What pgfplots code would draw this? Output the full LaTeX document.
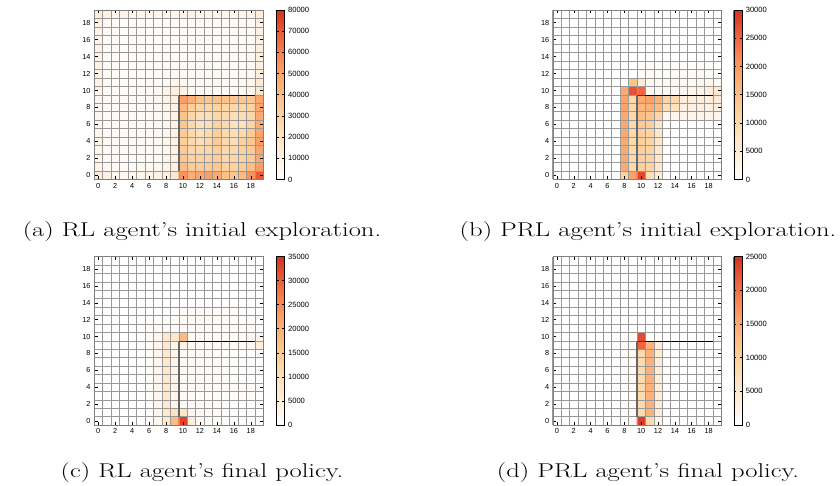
\documentclass[border=0pt]{standalone}
\usepackage{fontspec}
\usepackage{pgfplots}
\pgfplotsset{compat=1.18}
\newfontfamily\tickfont{Liberation Sans}
\newcommand\capfont{\fontsize{20}{24}\selectfont}
\pgfplotsset{
  colormap={orrd}{rgb255=(255,255,255) rgb255=(255,240,224) rgb255=(254,228,196) rgb255=(253,212,160) rgb255=(253,190,133) rgb255=(252,165,108) rgb255=(248,129,80) rgb255=(233,90,58) rgb255=(215,48,31)},
  hm/.style={
    scale only axis,
    xmin=-0.5, xmax=19.5, ymin=-0.5, ymax=19.5,
    enlargelimits=false,
    xtick={0,2,4,6,8,10,12,14,16,18},
    ytick={0,2,4,6,8,10,12,14,16,18},
    minor xtick={-0.5,0.5,...,19.5},
    minor ytick={-0.5,0.5,...,19.5},
    grid=minor,
    minor grid style={black!40, line width=0.45pt},
    minor tick length=0pt,
    major tick length=3.5pt,
    tick align=inside,
    tick style={black, line width=0.5pt},
    axis on top,
    axis line style={black!50},
    /pgf/number format/assume math mode=true,
    ticklabel style={font=\tickfont\fontsize{7.3}{8}\selectfont},
    colormap name=orrd,
    colorbar,
    point meta min=0,
    colorbar style={
      width=8.5pt,
      at={(parent axis.north east)}, anchor=north west, xshift=4pt,
      scaled y ticks=false,
      /pgf/number format/assume math mode=true,
      yticklabel style={font=\tickfont\fontsize{7.6}{8}\selectfont, /pgf/number format/1000 sep={}},
      tick align=inside,
      major tick length=2.5pt,
      tick style={black, line width=0.5pt},
      axis line style={black},
    },
    after end axis/.append code={
      \draw[black!60, line width=1.9pt] (axis cs:9.5,0.5) -- (axis cs:9.5,9.4);
      \draw[black, line width=1.4pt] (axis cs:9.5,9.4) -- (axis cs:18.5,9.4);
      \draw[red!85!black, line width=1.4pt] (axis cs:9.5,9.4) -- (axis cs:10.4,9.4);
    },
  },
  heat/.style={matrix plot*, mesh/cols=20, mesh/rows=20, point meta=explicit},
}
\begin{document}
\begin{tikzpicture}
\path[use as bounding box] (0,0) rectangle (840pt,485pt);

% (a) RL initial exploration
\begin{axis}[hm, at={(94pt,305.5pt)}, anchor=south west, width=169.5pt, height=169.5pt,
  point meta max=80000,
  colorbar style={ytick={0,10000,20000,30000,40000,50000,60000,70000,80000}}]
\addplot[heat] table[row sep=\\, x expr={mod(\coordindex,20)}, y expr={floor(\coordindex/20)}, meta=v] {
v\\
12000\\ 9000\\ 5000\\ 4000\\ 5000\\ 6000\\ 7000\\ 9000\\ 12000\\ 16000\\ 55000\\ 46000\\ 50000\\ 52000\\ 48000\\ 38000\\ 36000\\ 42000\\ 56000\\ 70000\\
7000\\ 4000\\ 3000\\ 3000\\ 3000\\ 4000\\ 4000\\ 5000\\ 8000\\ 10000\\ 40000\\ 34000\\ 34000\\ 34000\\ 36000\\ 30000\\ 30000\\ 34000\\ 40000\\ 52000\\
6000\\ 3000\\ 3000\\ 3000\\ 3000\\ 3000\\ 3000\\ 4000\\ 7000\\ 9000\\ 36000\\ 30000\\ 30000\\ 30000\\ 32000\\ 28000\\ 28000\\ 30000\\ 34000\\ 50000\\
6000\\ 3000\\ 3000\\ 3000\\ 3000\\ 3000\\ 3000\\ 4000\\ 6000\\ 8000\\ 34000\\ 28000\\ 26000\\ 28000\\ 32000\\ 26000\\ 26000\\ 30000\\ 34000\\ 50000\\
7000\\ 3000\\ 3000\\ 3000\\ 3000\\ 3000\\ 3000\\ 4000\\ 6000\\ 8000\\ 32000\\ 26000\\ 24000\\ 26000\\ 34000\\ 26000\\ 24000\\ 30000\\ 36000\\ 52000\\
6000\\ 3000\\ 3000\\ 3000\\ 3000\\ 3000\\ 3000\\ 4000\\ 6000\\ 8000\\ 34000\\ 26000\\ 24000\\ 26000\\ 32000\\ 26000\\ 24000\\ 26000\\ 34000\\ 50000\\
5000\\ 3000\\ 3000\\ 3000\\ 3000\\ 3000\\ 3000\\ 4000\\ 6000\\ 8000\\ 36000\\ 26000\\ 22000\\ 24000\\ 30000\\ 26000\\ 22000\\ 22000\\ 30000\\ 48000\\
5000\\ 3000\\ 3000\\ 3000\\ 3000\\ 3000\\ 3000\\ 4000\\ 6000\\ 8000\\ 38000\\ 28000\\ 24000\\ 24000\\ 28000\\ 26000\\ 24000\\ 24000\\ 28000\\ 48000\\
5000\\ 3000\\ 3000\\ 3000\\ 3000\\ 3000\\ 3000\\ 4000\\ 6000\\ 8000\\ 42000\\ 32000\\ 28000\\ 28000\\ 30000\\ 28000\\ 26000\\ 26000\\ 30000\\ 50000\\
5000\\ 3000\\ 3000\\ 3000\\ 3000\\ 3000\\ 4000\\ 5000\\ 8000\\ 10000\\ 52000\\ 46000\\ 38000\\ 36000\\ 38000\\ 38000\\ 36000\\ 36000\\ 36000\\ 50000\\
6000\\ 3000\\ 2000\\ 2000\\ 2000\\ 3000\\ 3000\\ 4000\\ 7000\\ 11000\\ 8000\\ 3000\\ 3000\\ 3000\\ 3000\\ 3000\\ 3000\\ 4000\\ 6000\\ 18000\\
7000\\ 3000\\ 2000\\ 2000\\ 2000\\ 2000\\ 3000\\ 3000\\ 4000\\ 6000\\ 4000\\ 3000\\ 3000\\ 3000\\ 4000\\ 3000\\ 3000\\ 4000\\ 5000\\ 14000\\
8000\\ 3000\\ 2000\\ 2000\\ 2000\\ 2000\\ 2000\\ 3000\\ 3000\\ 4000\\ 3000\\ 3000\\ 3000\\ 3000\\ 4000\\ 3000\\ 3000\\ 3000\\ 4000\\ 12000\\
8000\\ 3000\\ 2000\\ 2000\\ 2000\\ 2000\\ 2000\\ 3000\\ 3000\\ 3000\\ 3000\\ 3000\\ 3000\\ 3000\\ 3000\\ 3000\\ 3000\\ 3000\\ 4000\\ 10000\\
7000\\ 3000\\ 2000\\ 1500\\ 1500\\ 2000\\ 2000\\ 2000\\ 3000\\ 3000\\ 3000\\ 3000\\ 3000\\ 3000\\ 3000\\ 3000\\ 3000\\ 3000\\ 4000\\ 10000\\
7000\\ 3000\\ 2000\\ 1500\\ 1500\\ 2000\\ 2000\\ 2000\\ 2000\\ 3000\\ 3000\\ 3000\\ 3000\\ 3000\\ 3000\\ 3000\\ 3000\\ 3000\\ 4000\\ 10000\\
7000\\ 3000\\ 2000\\ 1500\\ 1500\\ 2000\\ 2000\\ 2000\\ 2000\\ 3000\\ 3000\\ 3000\\ 3000\\ 3000\\ 3000\\ 3000\\ 3000\\ 3000\\ 3000\\ 9000\\
7000\\ 3000\\ 2000\\ 1500\\ 1500\\ 2000\\ 2000\\ 2000\\ 2000\\ 3000\\ 3000\\ 3000\\ 3000\\ 3000\\ 3000\\ 3000\\ 3000\\ 3000\\ 3000\\ 9000\\
8000\\ 3000\\ 2000\\ 2000\\ 2000\\ 2000\\ 2000\\ 2000\\ 2000\\ 3000\\ 3000\\ 3000\\ 3000\\ 3000\\ 3000\\ 3000\\ 3000\\ 3000\\ 3000\\ 9000\\
12000\\ 9000\\ 7000\\ 7000\\ 6000\\ 6000\\ 6000\\ 6000\\ 6000\\ 6000\\ 7000\\ 7000\\ 6000\\ 6000\\ 6000\\ 6000\\ 6000\\ 6000\\ 7000\\ 12000\\
};
\end{axis}

% (b) PRL initial exploration
\begin{axis}[hm, at={(552.7pt,305.5pt)}, anchor=south west, width=168.5pt, height=169.5pt,
  point meta max=30000,
  colorbar style={ytick={0,5000,10000,15000,20000,25000,30000}}]
\addplot[heat] table[row sep=\\, x expr={mod(\coordindex,20)}, y expr={floor(\coordindex/20)}, meta=v] {
v\\
0\\ 0\\ 0\\ 0\\ 0\\ 0\\ 0\\ 0\\ 11000\\ 19000\\ 28000\\ 9000\\ 5000\\ 0\\ 0\\ 0\\ 0\\ 0\\ 0\\ 0\\
0\\ 0\\ 0\\ 0\\ 0\\ 0\\ 0\\ 0\\ 18000\\ 10000\\ 12000\\ 11000\\ 6500\\ 0\\ 0\\ 0\\ 0\\ 0\\ 0\\ 0\\
0\\ 0\\ 0\\ 0\\ 0\\ 0\\ 0\\ 0\\ 18000\\ 10000\\ 12000\\ 11000\\ 6500\\ 0\\ 0\\ 0\\ 0\\ 0\\ 0\\ 0\\
0\\ 0\\ 0\\ 0\\ 0\\ 0\\ 0\\ 0\\ 18000\\ 10000\\ 12000\\ 11000\\ 6500\\ 0\\ 0\\ 0\\ 0\\ 0\\ 0\\ 0\\
0\\ 0\\ 0\\ 0\\ 0\\ 0\\ 0\\ 0\\ 18000\\ 10000\\ 12000\\ 11000\\ 6500\\ 0\\ 0\\ 0\\ 0\\ 0\\ 0\\ 0\\
0\\ 0\\ 0\\ 0\\ 0\\ 0\\ 0\\ 0\\ 18000\\ 10000\\ 12000\\ 11000\\ 6500\\ 0\\ 0\\ 0\\ 0\\ 0\\ 0\\ 0\\
0\\ 0\\ 0\\ 0\\ 0\\ 0\\ 0\\ 0\\ 18000\\ 10000\\ 13000\\ 12000\\ 7000\\ 0\\ 0\\ 0\\ 0\\ 0\\ 0\\ 0\\
0\\ 0\\ 0\\ 0\\ 0\\ 0\\ 0\\ 0\\ 18000\\ 10000\\ 15000\\ 14000\\ 11000\\ 2000\\ 2000\\ 2500\\ 2500\\ 2500\\ 2500\\ 2500\\
0\\ 0\\ 0\\ 0\\ 0\\ 0\\ 0\\ 0\\ 19000\\ 10000\\ 16000\\ 17000\\ 15000\\ 9000\\ 8000\\ 3500\\ 3500\\ 3500\\ 3500\\ 3500\\
0\\ 0\\ 0\\ 0\\ 0\\ 0\\ 0\\ 0\\ 19000\\ 10000\\ 18000\\ 19000\\ 17000\\ 11000\\ 10000\\ 4500\\ 4500\\ 4500\\ 4500\\ 5500\\
0\\ 0\\ 0\\ 0\\ 0\\ 0\\ 0\\ 0\\ 18000\\ 27000\\ 25000\\ 1500\\ 1500\\ 1500\\ 1500\\ 2000\\ 2000\\ 3000\\ 4500\\ 5500\\
0\\ 0\\ 0\\ 0\\ 0\\ 0\\ 0\\ 0\\ 0\\ 14000\\ 5000\\ 1500\\ 1500\\ 1500\\ 1500\\ 1500\\ 1500\\ 2000\\ 2000\\ 1000\\
0\\ 0\\ 0\\ 0\\ 0\\ 0\\ 0\\ 0\\ 0\\ 0\\ 800\\ 1000\\ 1000\\ 1000\\ 1000\\ 1000\\ 1000\\ 1000\\ 1000\\ 300\\
0\\ 0\\ 0\\ 0\\ 0\\ 0\\ 0\\ 0\\ 0\\ 0\\ 0\\ 0\\ 0\\ 0\\ 0\\ 0\\ 0\\ 0\\ 0\\ 0\\
0\\ 0\\ 0\\ 0\\ 0\\ 0\\ 0\\ 0\\ 0\\ 0\\ 0\\ 0\\ 0\\ 0\\ 0\\ 0\\ 0\\ 0\\ 0\\ 0\\
0\\ 0\\ 0\\ 0\\ 0\\ 0\\ 0\\ 0\\ 0\\ 0\\ 0\\ 0\\ 0\\ 0\\ 0\\ 0\\ 0\\ 0\\ 0\\ 0\\
0\\ 0\\ 0\\ 0\\ 0\\ 0\\ 0\\ 0\\ 0\\ 0\\ 0\\ 0\\ 0\\ 0\\ 0\\ 0\\ 0\\ 0\\ 0\\ 0\\
0\\ 0\\ 0\\ 0\\ 0\\ 0\\ 0\\ 0\\ 0\\ 0\\ 0\\ 0\\ 0\\ 0\\ 0\\ 0\\ 0\\ 0\\ 0\\ 0\\
0\\ 0\\ 0\\ 0\\ 0\\ 0\\ 0\\ 0\\ 0\\ 0\\ 0\\ 0\\ 0\\ 0\\ 0\\ 0\\ 0\\ 0\\ 0\\ 0\\
0\\ 0\\ 0\\ 0\\ 0\\ 0\\ 0\\ 0\\ 0\\ 0\\ 0\\ 0\\ 0\\ 0\\ 0\\ 0\\ 0\\ 0\\ 0\\ 0\\
};
\end{axis}

% (c) RL final policy
\begin{axis}[hm, at={(94pt,60pt)}, anchor=south west, width=169.5pt, height=168.5pt,
  point meta max=35000,
  colorbar style={ytick={0,5000,10000,15000,20000,25000,30000,35000}}]
\addplot[heat] table[row sep=\\, x expr={mod(\coordindex,20)}, y expr={floor(\coordindex/20)}, meta=v] {
v\\
0\\ 0\\ 0\\ 0\\ 0\\ 0\\ 500\\ 2000\\ 7000\\ 18000\\ 33000\\ 5000\\ 1200\\ 800\\ 700\\ 600\\ 600\\ 500\\ 500\\ 400\\
0\\ 0\\ 0\\ 0\\ 0\\ 0\\ 600\\ 2500\\ 7000\\ 9000\\ 8000\\ 2000\\ 1000\\ 800\\ 700\\ 600\\ 600\\ 500\\ 500\\ 400\\
0\\ 0\\ 0\\ 0\\ 0\\ 0\\ 700\\ 2500\\ 7000\\ 3000\\ 1500\\ 1000\\ 900\\ 800\\ 700\\ 700\\ 600\\ 600\\ 500\\ 500\\
0\\ 0\\ 0\\ 0\\ 0\\ 0\\ 700\\ 2500\\ 7000\\ 3000\\ 1500\\ 1000\\ 900\\ 800\\ 700\\ 700\\ 600\\ 600\\ 500\\ 500\\
0\\ 0\\ 0\\ 0\\ 0\\ 0\\ 700\\ 2500\\ 7000\\ 3000\\ 1500\\ 1000\\ 900\\ 800\\ 700\\ 700\\ 600\\ 600\\ 500\\ 500\\
0\\ 0\\ 0\\ 0\\ 0\\ 0\\ 700\\ 2500\\ 7000\\ 3000\\ 1500\\ 1000\\ 900\\ 800\\ 700\\ 700\\ 600\\ 600\\ 500\\ 500\\
0\\ 0\\ 0\\ 0\\ 0\\ 0\\ 700\\ 2500\\ 7000\\ 3000\\ 1500\\ 1000\\ 900\\ 800\\ 700\\ 700\\ 600\\ 600\\ 500\\ 500\\
0\\ 0\\ 0\\ 0\\ 0\\ 0\\ 700\\ 2500\\ 7000\\ 3000\\ 1500\\ 1000\\ 900\\ 800\\ 700\\ 700\\ 600\\ 600\\ 500\\ 500\\
0\\ 0\\ 0\\ 0\\ 0\\ 0\\ 700\\ 2500\\ 7000\\ 3000\\ 1500\\ 1000\\ 900\\ 800\\ 700\\ 700\\ 600\\ 600\\ 500\\ 500\\
0\\ 0\\ 0\\ 0\\ 0\\ 300\\ 800\\ 2500\\ 7000\\ 3000\\ 3000\\ 1500\\ 1500\\ 1500\\ 1500\\ 1500\\ 1500\\ 1500\\ 2000\\ 5000\\
0\\ 0\\ 0\\ 0\\ 0\\ 300\\ 1000\\ 2500\\ 7000\\ 8000\\ 18000\\ 1500\\ 1500\\ 1500\\ 1500\\ 1500\\ 1500\\ 1500\\ 2000\\ 3000\\
0\\ 0\\ 0\\ 0\\ 0\\ 0\\ 500\\ 1000\\ 1500\\ 1500\\ 1500\\ 1200\\ 1200\\ 1200\\ 1200\\ 1200\\ 1000\\ 1000\\ 800\\ 500\\
0\\ 0\\ 0\\ 0\\ 0\\ 0\\ 300\\ 500\\ 800\\ 1000\\ 1000\\ 1000\\ 1000\\ 1000\\ 1000\\ 1000\\ 800\\ 600\\ 400\\ 200\\
0\\ 0\\ 0\\ 0\\ 0\\ 0\\ 0\\ 0\\ 300\\ 500\\ 500\\ 500\\ 500\\ 500\\ 500\\ 400\\ 300\\ 200\\ 0\\ 0\\
0\\ 0\\ 0\\ 0\\ 0\\ 0\\ 0\\ 0\\ 0\\ 0\\ 0\\ 0\\ 0\\ 0\\ 0\\ 0\\ 0\\ 0\\ 0\\ 0\\
0\\ 0\\ 0\\ 0\\ 0\\ 0\\ 0\\ 0\\ 0\\ 0\\ 0\\ 0\\ 0\\ 0\\ 0\\ 0\\ 0\\ 0\\ 0\\ 0\\
0\\ 0\\ 0\\ 0\\ 0\\ 0\\ 0\\ 0\\ 0\\ 0\\ 0\\ 0\\ 0\\ 0\\ 0\\ 0\\ 0\\ 0\\ 0\\ 0\\
0\\ 0\\ 0\\ 0\\ 0\\ 0\\ 0\\ 0\\ 0\\ 0\\ 0\\ 0\\ 0\\ 0\\ 0\\ 0\\ 0\\ 0\\ 0\\ 0\\
0\\ 0\\ 0\\ 0\\ 0\\ 0\\ 0\\ 0\\ 0\\ 0\\ 0\\ 0\\ 0\\ 0\\ 0\\ 0\\ 0\\ 0\\ 0\\ 0\\
0\\ 0\\ 0\\ 0\\ 0\\ 0\\ 0\\ 0\\ 0\\ 0\\ 0\\ 0\\ 0\\ 0\\ 0\\ 0\\ 0\\ 0\\ 0\\ 0\\
};
\end{axis}

% (d) PRL final policy
\begin{axis}[hm, at={(552.7pt,60pt)}, anchor=south west, width=168.5pt, height=168.5pt,
  point meta max=25000,
  colorbar style={ytick={0,5000,10000,15000,20000,25000}}]
\addplot[heat] table[row sep=\\, x expr={mod(\coordindex,20)}, y expr={floor(\coordindex/20)}, meta=v] {
v\\
0\\ 0\\ 0\\ 0\\ 0\\ 0\\ 0\\ 0\\ 500\\ 800\\ 24000\\ 8000\\ 2000\\ 0\\ 0\\ 0\\ 0\\ 0\\ 0\\ 0\\
0\\ 0\\ 0\\ 0\\ 0\\ 0\\ 0\\ 0\\ 500\\ 800\\ 8000\\ 14000\\ 4000\\ 0\\ 0\\ 0\\ 0\\ 0\\ 0\\ 0\\
0\\ 0\\ 0\\ 0\\ 0\\ 0\\ 0\\ 0\\ 500\\ 800\\ 8000\\ 14000\\ 4000\\ 0\\ 0\\ 0\\ 0\\ 0\\ 0\\ 0\\
0\\ 0\\ 0\\ 0\\ 0\\ 0\\ 0\\ 0\\ 500\\ 800\\ 8000\\ 14000\\ 4000\\ 0\\ 0\\ 0\\ 0\\ 0\\ 0\\ 0\\
0\\ 0\\ 0\\ 0\\ 0\\ 0\\ 0\\ 0\\ 500\\ 800\\ 8000\\ 14000\\ 4000\\ 0\\ 0\\ 0\\ 0\\ 0\\ 0\\ 0\\
0\\ 0\\ 0\\ 0\\ 0\\ 0\\ 0\\ 0\\ 500\\ 800\\ 8000\\ 14000\\ 4000\\ 0\\ 0\\ 0\\ 0\\ 0\\ 0\\ 0\\
0\\ 0\\ 0\\ 0\\ 0\\ 0\\ 0\\ 0\\ 500\\ 800\\ 8000\\ 14000\\ 4000\\ 0\\ 0\\ 0\\ 0\\ 0\\ 0\\ 0\\
0\\ 0\\ 0\\ 0\\ 0\\ 0\\ 0\\ 0\\ 500\\ 800\\ 8000\\ 14000\\ 4000\\ 0\\ 0\\ 0\\ 0\\ 0\\ 0\\ 0\\
0\\ 0\\ 0\\ 0\\ 0\\ 0\\ 0\\ 0\\ 500\\ 800\\ 8000\\ 14000\\ 4000\\ 0\\ 0\\ 0\\ 0\\ 0\\ 0\\ 0\\
0\\ 0\\ 0\\ 0\\ 0\\ 0\\ 0\\ 0\\ 500\\ 800\\ 21000\\ 14000\\ 4000\\ 0\\ 0\\ 0\\ 0\\ 0\\ 0\\ 0\\
0\\ 0\\ 0\\ 0\\ 0\\ 0\\ 0\\ 0\\ 500\\ 800\\ 23000\\ 0\\ 0\\ 0\\ 0\\ 0\\ 0\\ 0\\ 0\\ 0\\
0\\ 0\\ 0\\ 0\\ 0\\ 0\\ 0\\ 0\\ 0\\ 0\\ 0\\ 0\\ 0\\ 0\\ 0\\ 0\\ 0\\ 0\\ 0\\ 0\\
0\\ 0\\ 0\\ 0\\ 0\\ 0\\ 0\\ 0\\ 0\\ 0\\ 0\\ 0\\ 0\\ 0\\ 0\\ 0\\ 0\\ 0\\ 0\\ 0\\
0\\ 0\\ 0\\ 0\\ 0\\ 0\\ 0\\ 0\\ 0\\ 0\\ 0\\ 0\\ 0\\ 0\\ 0\\ 0\\ 0\\ 0\\ 0\\ 0\\
0\\ 0\\ 0\\ 0\\ 0\\ 0\\ 0\\ 0\\ 0\\ 0\\ 0\\ 0\\ 0\\ 0\\ 0\\ 0\\ 0\\ 0\\ 0\\ 0\\
0\\ 0\\ 0\\ 0\\ 0\\ 0\\ 0\\ 0\\ 0\\ 0\\ 0\\ 0\\ 0\\ 0\\ 0\\ 0\\ 0\\ 0\\ 0\\ 0\\
0\\ 0\\ 0\\ 0\\ 0\\ 0\\ 0\\ 0\\ 0\\ 0\\ 0\\ 0\\ 0\\ 0\\ 0\\ 0\\ 0\\ 0\\ 0\\ 0\\
0\\ 0\\ 0\\ 0\\ 0\\ 0\\ 0\\ 0\\ 0\\ 0\\ 0\\ 0\\ 0\\ 0\\ 0\\ 0\\ 0\\ 0\\ 0\\ 0\\
0\\ 0\\ 0\\ 0\\ 0\\ 0\\ 0\\ 0\\ 0\\ 0\\ 0\\ 0\\ 0\\ 0\\ 0\\ 0\\ 0\\ 0\\ 0\\ 0\\
0\\ 0\\ 0\\ 0\\ 0\\ 0\\ 0\\ 0\\ 0\\ 0\\ 0\\ 0\\ 0\\ 0\\ 0\\ 0\\ 0\\ 0\\ 0\\ 0\\
};
\end{axis}

\node[anchor=base, xscale=1.33] at (202pt,248pt) {\capfont (a) RL agent's initial exploration.};
\node[anchor=base, xscale=1.33] at (648pt,248pt) {\capfont (b) PRL agent's initial exploration.};
\node[anchor=base, xscale=1.33] at (202pt,8pt) {\capfont (c) RL agent's final policy.};
\node[anchor=base, xscale=1.33] at (648pt,8pt) {\capfont (d) PRL agent's final policy.};
\end{tikzpicture}
\end{document}
